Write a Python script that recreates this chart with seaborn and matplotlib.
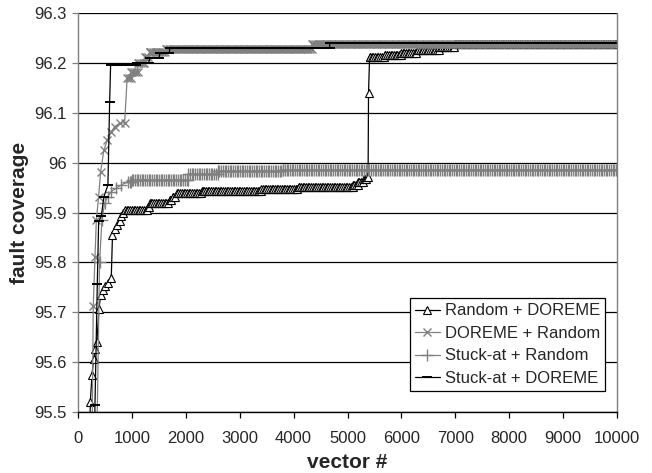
import numpy as np
import pandas as pd
import matplotlib
matplotlib.use("Agg")
import matplotlib.pyplot as plt
from matplotlib.ticker import FuncFormatter
import seaborn as sns

# ---- data ----
# early vectors: point by point; after that: (start vector, coverage level held)
rd_x = [210, 228, 260, 290, 320, 350, 390, 420, 460, 505, 555, 617, 640, 690, 730, 770, 800, 840]
rd_y = [95.40, 95.52, 95.575, 95.607, 95.627, 95.64, 95.707, 95.735, 95.745, 95.753,
        95.759, 95.769, 95.855, 95.867, 95.875, 95.883, 95.892, 95.90]
rd_sx = [870, 1290, 1330, 1700, 1760, 1830, 2300, 3400, 4100, 5100, 5200, 5300, 5370,
         5390, 5410, 5700, 6000, 6300, 6700, 7000]
rd_sy = [95.905, 95.912, 95.919, 95.925, 95.932, 95.939, 95.944, 95.948, 95.951, 95.956,
         95.962, 95.968, 95.972, 96.14, 96.211, 96.215, 96.219, 96.225, 96.232, 96.238]

dr_x = [250, 283, 315, 340, 383, 420, 480, 543, 617, 680, 772, 865]
dr_y = [95.30, 95.713, 95.81, 95.885, 95.932, 95.982, 96.025, 96.045, 96.062, 96.072,
        96.079, 96.08]
dr_sx = [912, 987, 1110, 1235, 1327, 1640, 4350]
dr_sy = [96.17, 96.182, 96.20, 96.212, 96.222, 96.227, 96.238]

sr_x = [330, 400, 444, 494, 555, 617, 710, 802]
sr_y = [95.30, 95.80, 95.885, 95.919, 95.932, 95.942, 95.949, 95.955]
sr_sx = [926, 1000, 2050, 2600, 3800]
sr_sy = [95.962, 95.965, 95.977, 95.983, 95.986]

sd_x = [280, 315, 358, 383, 432, 481, 555, 587]
sd_y = [95.30, 95.514, 95.757, 95.882, 95.892, 95.932, 95.955, 96.121]
sd_sx = [605, 1086, 1333, 1518, 1703, 4670]
sd_sy = [96.196, 96.20, 96.209, 96.219, 96.229, 96.240]

labels = ["Random + DOREME", "DOREME + Random", "Stuck-at + Random", "Stuck-at + DOREME"]


def expand(x0, y0, sx, sy, step=32, end=10000):
    # coverage is held between the read steps, sampled every `step` vectors
    grid = np.union1d(np.arange(sx[0], end + 1, step), sx)
    idx = np.searchsorted(sx, grid, side="right") - 1
    return np.r_[x0, grid], np.r_[y0, np.asarray(sy)[idx]]


sns.set_style("white")
plt.rcParams["font.family"] = ["Liberation Sans", "DejaVu Sans"]

fig = plt.figure(figsize=(6.52, 4.73), dpi=100)
ax = fig.add_axes([78 / 652, 1 - 412 / 473, 539 / 652, 399 / 473])

gray = "#808080"
styles = [
    dict(color="black", marker="^", markersize=5.5, markerfacecolor="white",
         markeredgecolor="black", markeredgewidth=0.8),
    dict(color=gray, marker="x", markersize=6, markeredgecolor=gray, markeredgewidth=1.0),
    dict(color=gray, marker="+", markersize=8, markeredgecolor=gray, markeredgewidth=1.0),
    dict(color="black", marker="_", markersize=7, markeredgecolor="black", markeredgewidth=1.4),
]
series = [(rd_x, rd_y, rd_sx, rd_sy), (dr_x, dr_y, dr_sx, dr_sy),
          (sr_x, sr_y, sr_sx, sr_sy), (sd_x, sd_y, sd_sx, sd_sy)]

for (x0, y0, sx, sy), lab, st in zip(series, labels, styles):
    xs, ys = expand(x0, y0, sx, sy)
    sns.lineplot(x=xs, y=ys, ax=ax, sort=False, estimator=None, linewidth=0.9,
                 label=lab, **st)

ax.set_xlim(0, 10000)
ax.set_ylim(95.5, 96.3)
ax.set_xticks(np.arange(0, 10001, 1000))
ax.set_yticks(np.round(np.arange(95.5, 96.31, 0.1), 1))
ax.yaxis.set_major_formatter(FuncFormatter(lambda v, p: "%g" % round(v, 1)))
ax.grid(axis="y", color="black", linewidth=0.9)
ax.grid(axis="x", visible=False)

ax.spines["top"].set_visible(False)
ax.spines["right"].set_color(gray)
ax.spines["left"].set_color(gray)
ax.spines["bottom"].set_color("black")
for s in ["left", "right", "bottom"]:
    ax.spines[s].set_linewidth(1.0)

ax.tick_params(axis="x", direction="out", length=4, width=0.9, color="black",
               pad=10, labelsize=12, bottom=True)
ax.tick_params(axis="y", direction="out", length=4, width=0.9, color=gray,
               pad=4, labelsize=12, left=True)

ax.set_xlabel("vector #", fontsize=15, fontweight="bold", labelpad=5)
ax.set_ylabel("fault coverage", fontsize=15, fontweight="bold", labelpad=4)

leg = ax.legend(loc="lower right", bbox_to_anchor=(0.978, 0.053), borderaxespad=0,
                fontsize=12, frameon=True, fancybox=False, handlelength=1.5,
                handletextpad=0.3, labelspacing=0.45, borderpad=0.3)
leg.get_frame().set_edgecolor("black")
leg.get_frame().set_linewidth(0.9)
leg.get_frame().set_alpha(1)

fig.savefig("out.png", dpi=100)
